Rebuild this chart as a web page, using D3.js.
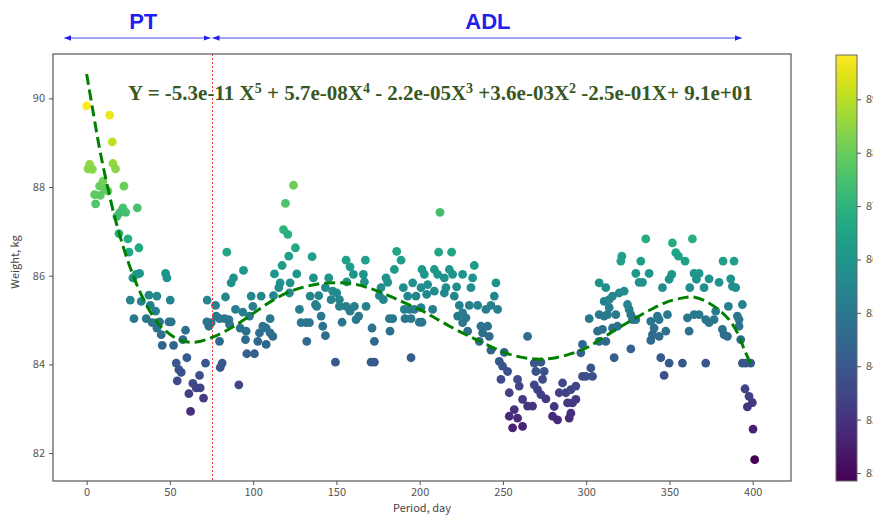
<!DOCTYPE html>
<html>
<head>
<meta charset="utf-8">
<script src="https://cdn.jsdelivr.net/npm/d3@7"></script>
<style>
  body { margin: 0; background: #fff; }
  svg { display: block; }
</style>
</head>
<body>
<svg id="chart" width="873" height="518"></svg>
<script>
// daily weight readings, [day, kg]
const obs = [
  [0,89.83],[13.8,89.62],[15.4,89.02],[1.8,88.51],[3.4,88.40],[0.8,88.41],[15.8,88.53],[17.4,88.41],
  [9.8,88.13],[7.8,88.02],[10.8,87.95],[4.8,87.83],[8.2,87.81],[12.8,87.91],[5.4,87.62],[22.4,88.02],
  [21.8,87.53],[19.8,87.42],[18.2,87.34],[23.4,87.43],[30.4,87.53],[19.4,86.95],[24.8,86.83],[25.4,86.53],
  [31.4,86.63],[31.8,86.05],[27.8,85.95],[29.8,86.03],[47.4,86.05],[48.2,85.95],[26.2,85.45],[32.8,85.42],
  [37.4,85.56],[42.2,85.54],[38.2,85.33],[50.2,85.45],[28.4,85.03],[35.8,85.03],[41.4,85.20],[43.8,84.96],
  [49.4,84.96],[50.8,84.96],[39.4,84.94],[42.2,84.82],[44.8,84.67],[45.4,84.43],[52.2,84.43],[59.4,84.77],
  [57.8,84.56],[60.2,84.15],[53.8,84.03],[55.4,83.88],[56.8,83.82],[54.4,83.63],[71.4,84.03],[81.4,84.03],
  [80.2,83.93],[67.8,83.75],[63.8,83.57],[65.8,83.47],[68.2,83.47],[61.4,83.34],[70.2,83.24],[91.4,83.54],
  [62.4,82.94],[72.4,85.45],[72.2,84.96],[74.8,84.94],[73.4,84.86],[77.4,85.33],[77.8,85.09],[79.8,85.03],
  [82.8,85.03],[85.4,85.01],[85.8,84.90],[83.4,85.52],[84.2,86.53],[86.8,85.84],[88.2,85.95],[94.2,86.12],
  [89.4,85.24],[93.8,85.18],[92.2,84.82],[95.4,84.56],[96.2,84.24],[100.8,84.24],[79.8,84.52],
  [124.2,88.04],[119.4,87.63],[118.2,87.04],[120.8,86.93],[125.4,86.63],[121.4,86.44],[117.4,86.23],
  [112.8,86.04],[116.2,85.84],[115.4,85.73],[112.2,85.55],[135.4,86.43],[126.2,86.04],[122.2,85.84],
  [121.8,85.61],[136.2,85.95],[134.2,85.54],[139.4,85.55],[137.4,85.35],[138.2,85.31],[145.4,85.95],
  [143.4,85.73],[147.8,85.65],[150.2,85.61],[146.8,85.46],[151.8,85.46],[155.8,86.35],[158.2,86.20],
  [160.2,86.03],[156.2,85.86],[167.4,86.35],[166.2,86.03],[166.8,85.86],[186.2,86.55],[188.8,86.35],
  [184.8,86.14],[179.8,85.95],[180.8,85.85],[176.8,85.73],[175.8,85.55],[178.2,85.46],[190.2,85.73],
  [195.8,85.84],[192.8,85.54],[201.4,86.14],[202.8,86.03],[200.8,85.73],[197.8,85.54],[204.2,85.58],
  [190.8,85.24],[193.8,85.24],[196.8,85.24],[191.2,85.03],[194.8,85.03],[199.8,84.95],[201.4,84.95],
  [155.8,85.31],[151.8,85.31],[153.4,84.95],[158.2,85.20],[160.8,85.31],[163.4,85.09],[167.8,85.31],
  [161.8,85.01],[171.4,84.82],[172.8,84.52],[181.8,85.03],[183.8,85.03],[182.2,84.75],[127.8,85.24],
  [128.8,84.94],[131.8,84.94],[133.8,84.94],[132.2,84.52],[140.8,85.09],[141.8,84.86],[143.4,84.65],
  [98.8,85.54],[99.8,85.31],[104.8,85.54],[97.8,85.09],[110.2,85.03],[107.8,84.82],[110.2,84.71],
  [111.8,84.63],[105.8,84.86],[103.8,84.71],[102.8,84.52],[107.8,84.45],[95.8,84.75],
  [149.4,84.05],[170.8,84.05],[172.8,84.05],[194.8,84.15],
  [212.2,87.43],[211.4,86.53],[219.2,86.53],[208.8,86.14],[210.8,86.03],[214.8,85.95],[217.8,86.14],
  [219.8,86.03],[225.8,86.03],[232.8,86.23],[231.8,85.95],[204.8,85.80],[208.8,85.65],[215.8,85.73],
  [214.8,85.61],[222.2,85.75],[220.8,85.54],[230.8,85.73],[245.8,85.84],[223.8,85.33],[229.8,85.33],
  [234.8,85.33],[244.8,85.54],[242.8,85.33],[246.8,85.24],[239.8,85.24],[200.8,85.28],[207.8,85.24],
  [225.8,85.16],[222.8,85.09],[227.8,85.05],[225.8,84.94],[236.8,84.86],[240.8,84.86],[237.8,84.71],
  [241.8,84.63],[228.8,84.75],[235.8,84.52],[242.8,84.32],[264.8,84.63],[250.8,84.27],[247.8,84.07],
  [249.8,83.96],[252.8,83.84],[248.8,83.66],[253.8,83.36],[258.8,83.66],[259.8,83.51],[261.8,83.21],
  [264.8,83.06],[267.8,83.06],[256.8,82.98],[253.8,82.83],[258.8,82.79],[255.8,82.57],[261.8,82.60],
  [268.8,84.03],[269.8,83.84],[272.8,84.05],[274.8,83.84],[273.8,83.66],[268.8,83.54],[270.8,83.43],
  [272.8,83.32],[275.8,83.22],[280.8,83.05],[279.8,82.83],[282.8,82.75],[283.8,83.36],[285.8,83.58],
  [287.8,83.36],[290.8,83.43],[291.8,83.13],[288.8,83.13],[290.8,82.90],[289.8,82.79],[293.8,83.51],
  [297.8,83.73],[299.8,83.73],[302.8,83.92],[303.8,83.73],[293.8,83.21],[296.8,84.26],[297.8,84.45],
  [306.8,84.75],[301.8,85.03],[307.8,85.12],[310.8,85.09],[307.8,85.84],[311.8,85.73],[310.8,85.42],
  [313.8,85.28],
  [335.8,86.83],[351.8,86.74],[363.8,86.83],[321.4,86.44],[320.8,86.33],[332.8,86.33],[353.8,86.52],
  [355.4,86.44],[359.4,86.33],[382.2,86.33],[388.8,86.33],[329.8,86.05],[337.8,86.05],[331.8,85.85],
  [333.8,85.85],[351.4,86.03],[349.8,85.92],[364.8,86.05],[367.8,86.05],[366.2,85.92],[373.8,85.93],
  [379.8,85.85],[386.8,85.93],[387.8,85.76],[389.8,85.73],[345.8,85.73],[362.2,85.73],[370.8,85.73],
  [315.8,85.54],[319.8,85.61],[322.8,85.65],[313.8,85.46],[324.8,85.35],[325.8,85.24],[326.8,85.12],
  [327.8,85.01],[329.8,85.01],[312.8,85.12],[317.8,85.12],[309.8,84.79],[315.8,84.82],[318.8,84.86],
  [307.8,84.52],[311.8,84.52],[316.8,84.15],[326.8,84.35],[344.8,84.15],[349.8,84.03],[357.8,84.03],
  [371.8,84.03],[346.8,83.75],[393.8,84.03],[395.8,84.03],[398.8,84.03],
  [338.8,84.97],[340.8,84.82],[339.8,84.67],[338.8,84.54],[343.8,84.63],[347.8,84.75],[348.8,85.12],
  [343.8,85.01],[342.8,85.09],[360.8,85.05],[361.8,84.75],[364.8,85.12],[367.8,85.12],[371.8,85.01],
  [373.8,84.94],[376.8,85.01],[377.8,85.20],[381.8,84.79],[382.8,84.67],[384.8,84.63],[390.8,85.09],
  [391.8,85.01],[391.8,84.86],[385.4,85.31],[393.8,85.35],[392.8,84.56],
  [395.4,83.45],[397.8,83.28],[399.8,83.14],[396.8,83.04],[400.2,82.54],[401.2,81.85]
]

// 5th order fit
const fit = [
  [0,90.55],[5,89.45],[8,88.82],[12,88.1],[17,87.3],[22,86.65],[26,86.2],[31,85.72],[38,85.2],
  [46,84.8],[56,84.55],[65,84.5],[76,84.62],[88,84.85],[100,85.15],[112,85.45],[122,85.64],
  [132,85.76],[142,85.83],[152,85.84],[162,85.8],[172,85.69],[182,85.54],[192,85.37],[202,85.2],
  [210,85.03],[220,84.82],[230,84.63],[240,84.45],[250,84.28],[260,84.17],[270,84.12],[280,84.14],
  [290,84.23],[300,84.37],[308,84.55],[318,84.79],[328,85.01],[338,85.22],[348,85.4],[358,85.5],
  [364,85.52],[372,85.42],[380,85.22],[386,85.0],[391,84.7],[395,84.33],[399.5,83.95]
]

const xTicks = [0, 50, 100, 150, 200, 250, 300, 350, 400]
const yTicks = [82, 84, 86, 88, 90]
const cbarTicks = [82, 83, 84, 85, 86, 87, 88, 89]
const splitDay = 75
const phases = [
  { name: 'PT', from: -14, to: 75, labelAt: 34 },
  { name: 'ADL', from: 75, to: 394, labelAt: 241 }
]
const equation = [
  ['Y = -5.3e-11 X', '5'], [' + 5.7e-08X', '4'], [' - 2.2e-05X', '3'],
  [' +3.6e-03X', '2'], [' -2.5e-01X+ 9.1e+01', null]
]

const plot = { left: 53, right: 791, top: 54, bottom: 481 }
const svg = d3.select('#chart')
const tickFont = "'Noto Sans CJK KR', 'Noto Sans', sans-serif"

const x = d3.scaleLinear().domain([-20.2, 423]).range([plot.left, plot.right])
const y = d3.scaleLinear().domain([81.37, 91.0]).range([plot.bottom, plot.top])

const wExtent = d3.extent(obs, d => d[1])
const color = d3.scaleSequential(d3.interpolateViridis).domain(wExtent)

// axes
var xAxis = svg.append('g')
  .attr('transform', 'translate(0,' + plot.bottom + ')')
  .call(d3.axisBottom(x).tickValues(xTicks).tickSize(4).tickPadding(3))
var yAxis = svg.append('g')
  .attr('transform', 'translate(' + plot.left + ',0)')
  .call(d3.axisLeft(y).tickValues(yTicks).tickSize(4).tickPadding(4))

;[xAxis, yAxis].forEach(function (g) {
  g.select('.domain').remove()
  g.selectAll('line').attr('stroke', '#555')
  g.selectAll('text').attr('fill', '#555').style('font-family', tickFont).style('font-size', '11px')
})

svg.append('text')
  .attr('x', (plot.left + plot.right) / 2).attr('y', 512)
  .attr('text-anchor', 'middle')
  .attr('fill', '#444').style('font-family', tickFont).style('font-size', '11px')
  .text('Period, day')

svg.append('text')
  .attr('transform', 'translate(19,262) rotate(-90)')
  .attr('text-anchor', 'middle')
  .attr('fill', '#444').style('font-family', tickFont).style('font-size', '11px')
  .text('Weight, kg')

// dots
svg.append('g').selectAll('circle')
  .data(obs)
  .join('circle')
  .attr('cx', d => x(d[0]))
  .attr('cy', d => y(d[1]))
  .attr('r', 4.4)
  .attr('fill', d => color(d[1]))

// phase split
var splitX = Math.round(x(splitDay)) + 0.5
svg.append('line')
  .attr('x1', splitX).attr('x2', splitX)
  .attr('y1', plot.top).attr('y2', plot.bottom)
  .attr('stroke', '#ff3b3b').attr('stroke-width', 1)
  .attr('stroke-dasharray', '2,2')
  .attr('shape-rendering', 'crispEdges')

// fitted curve on top of the dots
var line = d3.line().x(d => x(d[0])).y(d => y(d[1])).curve(d3.curveCatmullRom)
svg.append('path')
  .datum(fit)
  .attr('d', line)
  .attr('fill', 'none')
  .attr('stroke', '#008000')
  .attr('stroke-width', 3)
  .attr('stroke-dasharray', '11,5')

// frame
svg.append('rect')
  .attr('x', plot.left).attr('y', plot.top)
  .attr('width', plot.right - plot.left).attr('height', plot.bottom - plot.top)
  .attr('fill', 'none').attr('stroke', '#555').attr('stroke-width', 1.2)

// equation
var eq = svg.append('text')
  .attr('x', 128).attr('y', 100)
  .attr('fill', '#385723')
  .style('font-family', "'Liberation Serif', 'Times New Roman', serif")
  .style('font-weight', 'bold')
  .style('font-size', '21px')
var lift = 0
equation.forEach(function (part) {
  eq.append('tspan').attr('dy', lift).text(part[0])
  lift = 0
  if (part[1]) {
    eq.append('tspan').attr('dy', -7).style('font-size', '14px').text(part[1])
    lift = 7
  }
})

// phase arrows
var defs = svg.append('defs')
defs.append('marker')
  .attr('id', 'head').attr('viewBox', '0 0 10 10')
  .attr('refX', 10).attr('refY', 5)
  .attr('markerWidth', 7).attr('markerHeight', 7)
  .attr('markerUnits', 'userSpaceOnUse')
  .attr('orient', 'auto-start-reverse')
  .append('path').attr('d', 'M0,1L10,5L0,9Z').attr('fill', '#1f1ff0')

var arrowY = 38
phases.forEach(function (p) {
  svg.append('line')
    .attr('x1', x(p.from) + 1).attr('x2', x(p.to) - 1)
    .attr('y1', arrowY).attr('y2', arrowY)
    .attr('stroke', '#4a4af2').attr('stroke-width', 1.2)
    .attr('marker-start', 'url(#head)').attr('marker-end', 'url(#head)')
  svg.append('text')
    .attr('x', x(p.labelAt)).attr('y', 29)
    .attr('text-anchor', 'middle')
    .attr('fill', '#1f1ff0')
    .style('font-family', "'Liberation Sans Narrow', 'Liberation Sans', sans-serif")
    .style('font-weight', 'bold')
    .style('font-size', '22px')
    .text(p.name)
})

// colour bar
var cb = { x: 836, w: 21, top: 55, bottom: 481 }
var cbY = d3.scaleLinear().domain(wExtent).range([cb.bottom, cb.top])
var grad = defs.append('linearGradient')
  .attr('id', 'viridis').attr('x1', 0).attr('x2', 0).attr('y1', 1).attr('y2', 0)
d3.range(0, 1.0001, 0.05).forEach(function (t) {
  grad.append('stop').attr('offset', t).attr('stop-color', d3.interpolateViridis(t))
})
svg.append('rect')
  .attr('x', cb.x).attr('y', cb.top)
  .attr('width', cb.w).attr('height', cb.bottom - cb.top)
  .attr('fill', 'url(#viridis)')
  .attr('stroke', '#666').attr('stroke-width', 1)

var cbAxis = svg.append('g')
  .attr('transform', 'translate(' + (cb.x + cb.w) + ',0)')
  .call(d3.axisRight(cbY).tickValues(cbarTicks).tickSize(4).tickPadding(5))
cbAxis.select('.domain').remove()
cbAxis.selectAll('line').attr('stroke', '#555')
cbAxis.selectAll('text').attr('fill', '#555').style('font-family', tickFont).style('font-size', '11px')
</script>
</body>
</html>
